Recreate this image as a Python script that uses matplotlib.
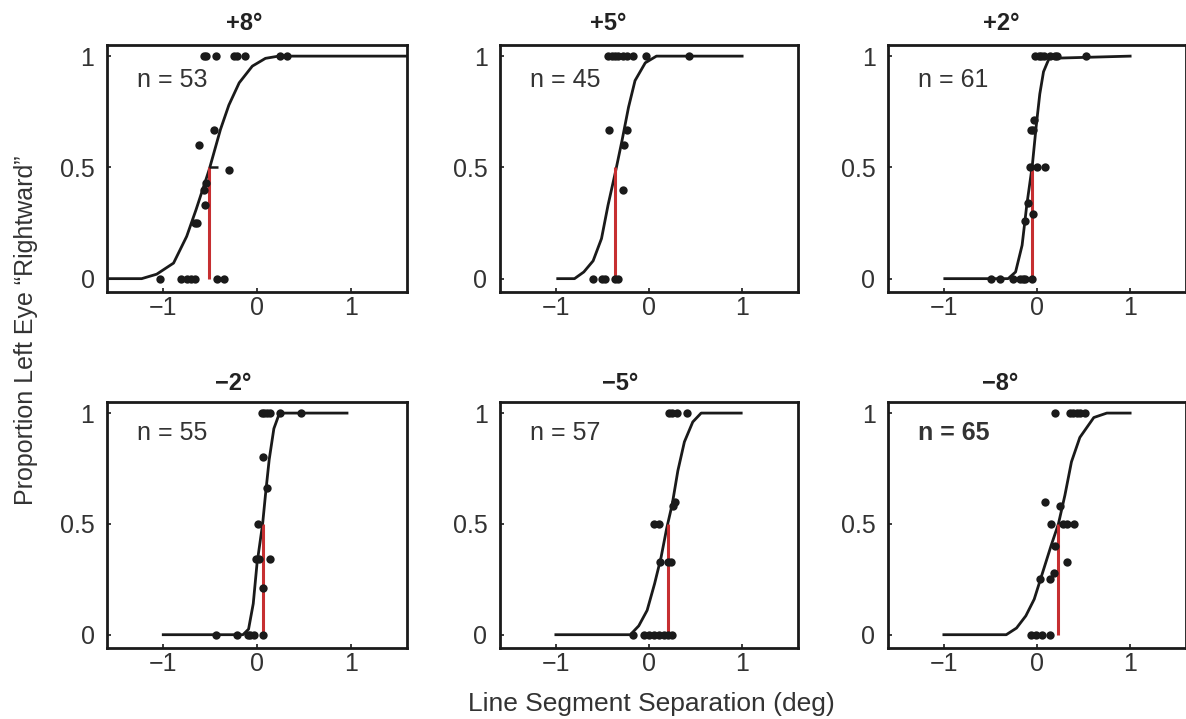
import matplotlib
matplotlib.use("Agg")
import matplotlib.pyplot as plt

plt.rcParams['font.family'] = ['Liberation Sans', 'DejaVu Sans']

# ---------------- data ----------------
titles = ["+8°", "+5°", "+2°", "\u22122°", "\u22125°", "\u22128°"]
n_labels = ["n = 53", "n = 45", "n = 61", "n = 55", "n = 57", "n = 65"]
thresholds = [-0.51, -0.36, -0.05, 0.06, 0.20, 0.23]

# observed proportions (x, y) per panel
p1_x = [-0.57, -0.54, -0.44, -0.25, -0.21, -0.13, 0.25, 0.32,
        -1.03, -0.81, -0.75, -0.70, -0.66, -0.43, -0.35,
        -0.46, -0.62, -0.30, -0.57, -0.54, -0.55, -0.66, -0.64]
p1_y = [1, 1, 1, 1, 1, 1, 1, 1,
        0, 0, 0, 0, 0, 0, 0,
        0.67, 0.60, 0.49, 0.40, 0.43, 0.33, 0.25, 0.25]

p2_x = [-0.44, -0.40, -0.37, -0.33, -0.28, -0.24, -0.17, -0.03, 0.43,
        -0.60, -0.50, -0.47, -0.37, -0.33,
        -0.43, -0.24, -0.27, -0.28]
p2_y = [1, 1, 1, 1, 1, 1, 1, 1, 1,
        0, 0, 0, 0, 0,
        0.67, 0.67, 0.60, 0.40]

p3_x = [-0.02, 0.02, 0.04, 0.07, 0.14, 0.19, 0.22, 0.53,
        -0.49, -0.40, -0.26, -0.18, -0.15, -0.13, -0.05,
        -0.03, -0.06, -0.04, -0.08, 0.00, 0.09, -0.04, -0.13, -0.10]
p3_y = [1, 1, 1, 1, 1, 1, 1, 1,
        0, 0, 0, 0, 0, 0, 0,
        0.715, 0.67, 0.67, 0.50, 0.50, 0.50, 0.29, 0.26, 0.34]

p4_x = [0.05, 0.07, 0.11, 0.14, 0.24, 0.47,
        -0.44, -0.21, -0.10, -0.07, -0.03, 0.06,
        0.06, 0.11, 0.01, -0.01, 0.02, 0.14, 0.06]
p4_y = [1, 1, 1, 1, 1, 1,
        0, 0, 0, 0, 0, 0,
        0.80, 0.66, 0.50, 0.34, 0.34, 0.34, 0.21]

p5_x = [0.215, 0.25, 0.30, 0.41,
        -0.17, -0.05, 0.00, 0.05, 0.11, 0.16, 0.20, 0.25,
        0.28, 0.26, 0.05, 0.11, 0.12, 0.24, 0.20]
p5_y = [1, 1, 1, 1,
        0, 0, 0, 0, 0, 0, 0, 0,
        0.60, 0.58, 0.50, 0.50, 0.33, 0.33, 0.33]

p6_x = [0.19, 0.35, 0.39, 0.43, 0.46, 0.52,
        -0.06, -0.01, 0.05, 0.14,
        0.09, 0.25, 0.15, 0.28, 0.32, 0.40, 0.32, 0.19, 0.03, 0.14, 0.18]
p6_y = [1, 1, 1, 1, 1, 1,
        0, 0, 0, 0,
        0.60, 0.58, 0.50, 0.50, 0.50, 0.50, 0.33, 0.40, 0.25, 0.25, 0.28]

# fitted psychometric curves
c1_x = [-1.6, -1.23, -1.07, -0.89, -0.75, -0.65, -0.51, -0.39, -0.30, -0.19, -0.05, 0.09, 0.23, 1.6]
c1_y = [0, 0, 0.02, 0.07, 0.19, 0.31, 0.49, 0.67, 0.78, 0.88, 0.955, 0.99, 1.0, 1.0]
c2_x = [-0.98, -0.80, -0.70, -0.60, -0.51, -0.44, -0.36, -0.29, -0.22, -0.15, -0.04, 0.08, 1.0]
c2_y = [0, 0, 0.03, 0.08, 0.18, 0.33, 0.48, 0.62, 0.77, 0.89, 0.97, 1.0, 1.0]
c3_x = [-0.99, -0.31, -0.23, -0.16, -0.11, -0.05, -0.01, 0.03, 0.07, 0.13, 1.0]
c3_y = [0, 0, 0.03, 0.15, 0.33, 0.51, 0.68, 0.83, 0.93, 0.99, 1.0]
c4_x = [-1.0, -0.15, -0.09, -0.04, 0.00, 0.06, 0.09, 0.13, 0.18, 0.24, 0.96]
c4_y = [0, 0, 0.025, 0.14, 0.32, 0.50, 0.63, 0.79, 0.93, 1.0, 1.0]
c5_x = [-1.0, -0.20, -0.11, -0.02, 0.06, 0.13, 0.19, 0.25, 0.31, 0.38, 0.47, 0.56, 0.99]
c5_y = [0, 0, 0.04, 0.11, 0.23, 0.35, 0.48, 0.59, 0.74, 0.87, 0.96, 1.0, 1.0]
c6_x = [-1.0, -0.33, -0.22, -0.12, -0.03, 0.06, 0.15, 0.23, 0.30, 0.37, 0.46, 0.61, 0.75, 1.0]
c6_y = [0, 0, 0.03, 0.085, 0.16, 0.28, 0.40, 0.50, 0.63, 0.78, 0.89, 0.98, 1.0, 1.0]

# small horizontal bar at threshold (panel 1)
bar1_x = [-0.51, -0.42]

xticks = [-1, 0, 1]
xticklabels = ["\u22121", "0", "1"]
yticks = [0, 0.5, 1]
yticklabels = ["0", "0.5", "1"]

points_x = [p1_x, p2_x, p3_x, p4_x, p5_x, p6_x]
points_y = [p1_y, p2_y, p3_y, p4_y, p5_y, p6_y]
curves_x = [c1_x, c2_x, c3_x, c4_x, c5_x, c6_x]
curves_y = [c1_y, c2_y, c3_y, c4_y, c5_y, c6_y]

# ---------------- layout ----------------
W, H = 1186, 719
fig = plt.figure(figsize=(W / 100, H / 100), dpi=100)

lefts = [107, 500, 888]
widths = [300, 298, 298]
tops = [45, 402]
heights = [247, 246]
title_px = [244, 608, 1001, 233, 620, 1000]
title_py = [23, 383]

axes = []
for i in range(6):
    r, c = divmod(i, 3)
    l = lefts[c] / W
    b = 1 - (tops[r] + heights[r]) / H
    ax = fig.add_axes([l, b, widths[c] / W, heights[r] / H])
    axes.append(ax)

red = "#c62f31"
ink = "#1a1a1a"
txt = "#333333"
for i, ax in enumerate(axes):
    ax.plot(curves_x[i], curves_y[i], color=ink, lw=2.0, zorder=3)
    ax.vlines(thresholds[i], 0, 0.5, color=red, lw=2.2, zorder=4)
    ax.plot(points_x[i], points_y[i], 'o', color=ink, ms=6, mec="none", zorder=5)
    ax.set_xlim(-1.6, 1.6)
    ax.set_ylim(-0.06, 1.05)
    ax.set_xticks(xticks)
    ax.set_xticklabels(xticklabels)
    ax.set_yticks(yticks)
    ax.set_yticklabels(yticklabels)
    ax.tick_params(direction='in', length=3, width=1.2, labelsize=18,
                   colors=ink, labelcolor=txt)
    ax.tick_params(axis='x', pad=3)
    ax.tick_params(axis='y', pad=9)
    for s in ax.spines.values():
        s.set_linewidth(2.0)
        s.set_color(ink)
    r, c = divmod(i, 3)
    ax.text(0.10, 0.86 if r == 0 else 0.875, n_labels[i], transform=ax.transAxes,
            fontsize=18, ha='left', va='center', color=txt,
            fontweight='bold' if i == 5 else 'normal')
    fig.text(title_px[i] / W, 1 - title_py[r] / H, titles[i], fontsize=17,
             fontweight='bold', ha='center', va='center', color="#222222")

axes[0].hlines(0.5, bar1_x[0], bar1_x[1], color=ink, lw=1.8, zorder=4)

fig.text(26 / W, 1 - 330 / H, "Proportion Left Eye \u201cRightward\u201d", rotation=90,
         fontsize=18, ha='center', va='center', color=txt)
fig.text(651 / W, 1 - 704 / H, "Line Segment Separation (deg)",
         fontsize=19, ha='center', va='center', color=txt)

fig.savefig("out.png", dpi=100)
